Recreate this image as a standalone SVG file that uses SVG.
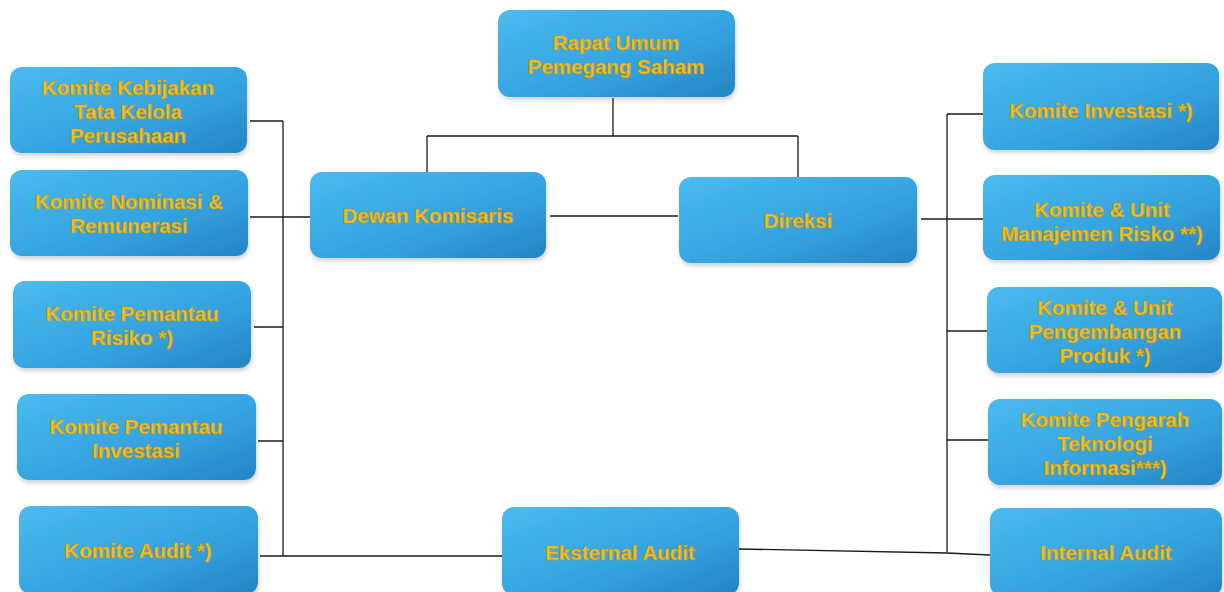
<svg xmlns="http://www.w3.org/2000/svg" width="1224" height="592" viewBox="0 0 1224 592">
<defs>
<linearGradient id="bg" x1="0" y1="0" x2="1" y2="1">
<stop offset="0" stop-color="#4abbef"/>
<stop offset="0.6" stop-color="#33a2df"/>
<stop offset="1" stop-color="#2584c4"/>
</linearGradient>
<filter id="sh" x="-10%" y="-10%" width="120%" height="130%">
<feGaussianBlur in="SourceAlpha" stdDeviation="2"/>
<feOffset dx="1" dy="3" result="b"/>
<feComponentTransfer><feFuncA type="linear" slope="0.18"/></feComponentTransfer>
<feMerge><feMergeNode/><feMergeNode in="SourceGraphic"/></feMerge>
</filter>
</defs>
<style>
.box{fill:url(#bg);filter:url(#sh)}
.t{font-family:"Liberation Sans",Arial,sans-serif;font-weight:bold;font-size:20.5px;fill:#f6c21c;stroke:#c0920f;stroke-width:0.6;text-anchor:middle}
.c{fill:none;stroke:#1a1a1a;stroke-width:1.3}
</style>
<rect width="1224" height="592" fill="#ffffff"/>
<g id="connectors">
<path class="c" d="M613 98V136M427 136H798M427 136V172M798 136V177"/>
<path class="c" d="M550 216H678"/>
<path class="c" d="M283 121V556M250 121H283M250 217H310M254 327H283M258 441H283M260 556H502"/>
<path class="c" d="M947 114V552M947 114H983M921 219H984M947 331H987M947 440H988M739 549L947 553L990 555"/>
</g>
<g id="rups"><rect class="box" x="498" y="10" width="237" height="87" rx="12"/><text class="t" x="616" y="50">Rapat Umum</text><text class="t" x="616" y="74">Pemegang Saham</text></g>
<g id="dewan"><rect class="box" x="310" y="172" width="236" height="86" rx="12"/><text class="t" x="428" y="223">Dewan Komisaris</text></g>
<g id="direksi"><rect class="box" x="679" y="177" width="238" height="86" rx="12"/><text class="t" x="798" y="228">Direksi</text></g>
<g id="eksternal"><rect class="box" x="502" y="507" width="237" height="88" rx="12"/><text class="t" x="620" y="560">Eksternal Audit</text></g>
<g id="k-kebijakan"><rect class="box" x="10" y="67" width="237" height="86" rx="12"/><text class="t" x="128" y="95">Komite Kebijakan</text><text class="t" x="128" y="119">Tata Kelola</text><text class="t" x="128" y="143">Perusahaan</text></g>
<g id="k-nominasi"><rect class="box" x="10" y="170" width="238" height="86" rx="12"/><text class="t" x="129" y="209">Komite Nominasi &amp;</text><text class="t" x="129" y="233">Remunerasi</text></g>
<g id="k-pemantau-risiko"><rect class="box" x="13" y="281" width="238" height="87" rx="12"/><text class="t" x="132" y="321">Komite Pemantau</text><text class="t" x="132" y="345">Risiko *)</text></g>
<g id="k-pemantau-investasi"><rect class="box" x="17" y="394" width="239" height="86" rx="12"/><text class="t" x="136" y="434">Komite Pemantau</text><text class="t" x="136" y="458">Investasi</text></g>
<g id="k-audit"><rect class="box" x="19" y="506" width="239" height="88" rx="12"/><text class="t" x="138" y="558">Komite Audit *)</text></g>
<g id="k-investasi"><rect class="box" x="983" y="63" width="236" height="87" rx="12"/><text class="t" x="1101" y="118">Komite Investasi *)</text></g>
<g id="k-manrisk"><rect class="box" x="983" y="175" width="237" height="85" rx="12"/><text class="t" x="1102" y="217">Komite &amp; Unit</text><text class="t" x="1102" y="241">Manajemen Risko **)</text></g>
<g id="k-produk"><rect class="box" x="987" y="287" width="235" height="86" rx="12"/><text class="t" x="1105" y="315">Komite &amp; Unit</text><text class="t" x="1105" y="339">Pengembangan</text><text class="t" x="1105" y="363">Produk *)</text></g>
<g id="k-ti"><rect class="box" x="988" y="399" width="234" height="86" rx="12"/><text class="t" x="1105" y="427">Komite Pengarah</text><text class="t" x="1105" y="451">Teknologi</text><text class="t" x="1105" y="475">Informasi***)</text></g>
<g id="internal"><rect class="box" x="990" y="508" width="232" height="88" rx="12"/><text class="t" x="1106" y="560">Internal Audit</text></g>
</svg>
